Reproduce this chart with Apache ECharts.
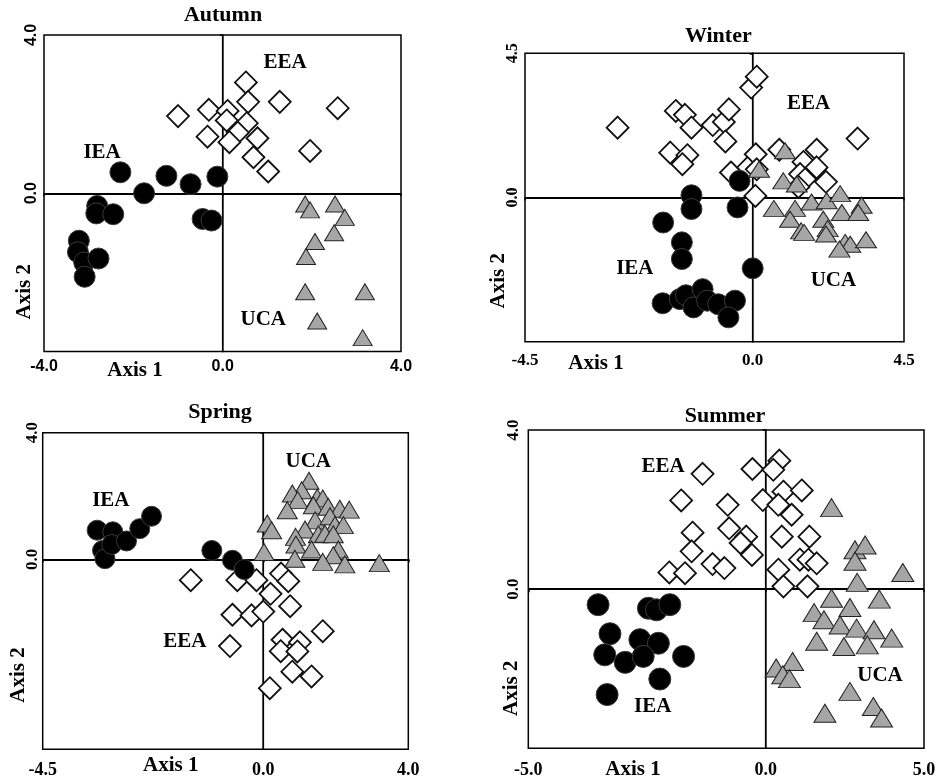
<!DOCTYPE html>
<html><head><meta charset="utf-8">
<script src="https://cdn.jsdelivr.net/npm/echarts@6/dist/echarts.min.js"></script>
<style>html,body{margin:0;padding:0;background:#fff}#c{width:939px;height:778px}</style>
</head><body><div id="c"></div>
<script>
// ---------------- DATA ----------------
// Autumn
const autumnXTicks = [-4.0, 0.0, 4.0];
const autumnYTicks = [0.0, 4.0];
const autumnYMin = -4.0;
const autumnIEA = [[-2.29,0.53],[-1.76,0.0],[-1.26,0.44],[-0.72,0.23],[-0.12,0.42],[-2.81,-0.32],[-2.83,-0.51],[-2.45,-0.53],[-0.45,-0.65],[-0.25,-0.69],[-3.22,-1.2],[-3.24,-1.49],[-3.1,-1.75],[-2.78,-1.65],[-3.09,-2.11]];
const autumnEEA = [[0.52,2.8],[0.57,2.31],[1.28,2.31],[2.58,2.15],[-1.0,1.95],[-0.31,2.11],[0.11,2.08],[0.09,1.84],[0.54,1.77],[0.34,1.53],[-0.34,1.43],[0.15,1.29],[0.78,1.39],[1.96,1.07],[0.69,0.91],[1.02,0.55]];
const autumnUCA = [[1.85,-0.27],[1.96,-0.42],[2.52,-0.27],[2.74,-0.61],[2.5,-1.0],[2.07,-1.22],[1.87,-1.6],[1.85,-2.49],[3.19,-2.49],[2.12,-3.23],[3.14,-3.65]];
const autumnLabels = [['EEA',1.40,3.30],['IEA',-2.70,1.03],['UCA',0.91,-3.19]];

// Winter
const winterXTicks = [-4.5, 0.0, 4.5];
const winterYTicks = [0.0, 4.5];
const winterYMin = -4.5;
const winterIEA = [[-0.26,0.52],[-1.21,0.07],[-1.21,-0.36],[-0.30,-0.31],[-1.77,-0.78],[-1.40,-1.40],[-1.40,-1.92],[0.0,-2.21],[-1.78,-3.30],[-1.44,-3.17],[-1.32,-3.05],[-0.99,-2.86],[-1.17,-3.43],[-0.90,-3.22],[-0.68,-3.33],[-0.35,-3.22],[-0.48,-3.74]];
const winterEEA = [[-2.67,2.18],[-1.52,2.70],[-1.34,2.58],[-1.21,2.18],[-0.79,2.26],[-0.57,2.36],[-0.47,2.75],[-0.54,1.75],[-1.63,1.40],[-1.29,1.32],[-1.39,1.04],[-0.03,3.43],[0.12,3.77],[0.09,1.35],[-0.43,0.78],[-0.09,0.94],[0.12,0.88],[0.08,0.05],[0.79,1.49],[1.90,1.49],[1.51,1.11],[1.90,0.94],[1.41,0.73],[1.56,0.57],[1.36,0.33],[2.18,0.49],[3.12,1.84]];
const winterUCA = [[0.96,1.46],[0.91,0.52],[0.19,0.88],[1.31,0.42],[0.63,-0.34],[1.26,-0.34],[1.11,-0.68],[1.44,-1.04],[1.53,-1.09],[1.75,-0.14],[2.20,-0.10],[2.60,0.12],[2.65,-0.47],[2.10,-0.68],[2.23,-0.97],[2.18,-1.14],[3.24,-0.24],[3.14,-0.47],[2.75,-1.40],[2.90,-1.46],[2.58,-1.61],[3.37,-1.32]];
const winterLabels = [['EEA',1.66,2.94],['IEA',-2.33,-2.23],['UCA',2.40,-2.60]];

// Spring
const springXTicks = [-4.5, 0.0, 4.0];
const springYTicks = [0.0, 4.0];
const springYMin = -6.0;
const springIEA = [[-3.39,0.92],[-3.07,0.87],[-3.28,0.28],[-3.23,0.02],[-3.09,0.47],[-2.79,0.58],[-2.52,0.97],[-2.28,1.36],[-1.05,0.28],[-0.63,-0.03],[-0.39,-0.32]];
const springEEA = [[-1.48,-0.66],[-0.53,-0.66],[-0.14,-0.66],[0.49,-0.45],[0.69,-0.69],[0.20,-1.09],[0.74,-1.48],[-0.63,-1.75],[-0.24,-1.77],[0.0,-1.65],[1.64,-2.27],[0.53,-2.54],[1.01,-2.62],[0.48,-2.90],[0.94,-2.91],[-0.68,-2.74],[0.80,-3.55],[1.33,-3.70],[0.18,-4.07]];
const springUCA = [[1.26,2.48],[1.06,2.18],[0.80,2.08],[0.95,1.87],[1.49,1.95],[1.64,1.92],[1.38,1.71],[1.79,1.66],[2.11,1.60],[2.37,1.57],[0.66,1.55],[1.43,1.23],[1.84,1.36],[1.98,1.08],[2.21,1.08],[0.11,1.13],[0.23,0.92],[1.15,0.94],[1.52,0.79],[1.70,0.81],[1.93,0.79],[0.89,0.71],[0.90,0.47],[1.33,0.31],[2.07,0.31],[1.93,0.13],[0.02,0.23],[0.87,0.02],[1.64,-0.08],[2.25,-0.16],[3.20,-0.12]];
const springLabels = [['UCA',1.24,3.08],['IEA',-3.11,1.87],['EEA',-1.60,-2.59]];

// Summer
const summerXTicks = [-5.0, 0.0, 5.0];
const summerYTicks = [0.0, 4.0];
const summerYMin = -4.0;
const summerIEA = [[-3.53,-0.39],[-2.47,-0.48],[-2.30,-0.52],[-2.02,-0.39],[-3.28,-1.12],[-2.65,-1.27],[-2.26,-1.36],[-3.39,-1.65],[-2.96,-1.84],[-2.58,-1.69],[-1.73,-1.69],[-2.23,-2.26],[-3.34,-2.65]];
const summerEEA = [[0.43,3.23],[0.24,3.0],[-0.28,3.02],[-1.33,2.90],[-1.78,2.23],[-0.80,2.12],[-0.06,2.24],[0.56,2.45],[1.14,2.48],[0.40,2.12],[0.82,1.87],[-1.54,1.42],[-0.77,1.53],[-0.41,1.32],[-0.53,1.16],[0.51,1.32],[1.38,1.32],[-1.56,0.95],[-0.29,0.86],[-2.03,0.42],[-1.70,0.40],[-1.12,0.63],[-0.87,0.53],[1.08,0.74],[1.35,0.74],[1.61,0.65],[0.40,0.49],[0.56,0.07],[1.32,0.07]];
const summerUCA = [[2.08,2.05],[2.82,0.99],[3.14,1.11],[2.82,0.70],[4.33,0.42],[2.89,0.17],[2.08,-0.23],[3.59,-0.25],[1.53,-0.59],[1.84,-0.77],[2.66,-0.46],[2.35,-0.90],[2.87,-0.98],[3.42,-1.02],[3.98,-1.23],[1.61,-1.31],[2.47,-1.44],[3.21,-1.40],[0.85,-1.82],[0.33,-1.98],[0.54,-2.15],[0.75,-2.25],[2.66,-2.57],[3.40,-2.95],[3.66,-3.24],[1.87,-3.12]];
const summerLabels = [['EEA',-2.16,3.08],['UCA',3.61,-2.18],['IEA',-2.38,-2.95]];

// ---------------- LAYOUT / STYLE ----------------
const SERIF = '"Liberation Serif","Times New Roman",serif';
const SANS = '"Liberation Sans",Arial,sans-serif';
const panels = [
  {title:'Autumn', xTicks:autumnXTicks, yTicks:autumnYTicks, yMin:autumnYMin,
   groups:{IEA:autumnIEA, EEA:autumnEEA, UCA:autumnUCA}, labels:autumnLabels,
   box:{L:44, X0:222.7, R:401, T:35, B:351.5},
   tickFont:SANS, xFs:16, yFs:16, xMargin:7, yMargin:4,
   titlePos:[223,15], ax1:[135,370.7], ax2:[25,291.7],
   sizes:{IEA:21, EEA:22, UCA:[19,16]}},
  {title:'Winter', xTicks:winterXTicks, yTicks:winterYTicks, yMin:winterYMin,
   groups:{IEA:winterIEA, EEA:winterEEA, UCA:winterUCA}, labels:winterLabels,
   box:{L:525, X0:752.7, R:904, T:53.3, B:341.7},
   tickFont:SERIF, xFs:17, yFs:16, xMargin:10, yMargin:4,
   titlePos:[718.3,36.7], ax1:[596,364], ax2:[498.3,280.7],
   sizes:{IEA:21, EEA:22, UCA:[21,16]}},
  {title:'Spring', xTicks:springXTicks, yTicks:springYTicks, yMin:springYMin,
   groups:{IEA:springIEA, EEA:springEEA, UCA:springUCA}, labels:springLabels,
   box:{L:42.7, X0:263.3, R:408.3, T:432.7, B:749.3},
   tickFont:SERIF, xFs:18, yFs:17, xMargin:12, yMargin:2,
   titlePos:[220,412.7], ax1:[170.7,766], ax2:[18.3,675],
   sizes:{IEA:20, EEA:22, UCA:[20,17]}},
  {title:'Summer', xTicks:summerXTicks, yTicks:summerYTicks, yMin:summerYMin,
   groups:{IEA:summerIEA, EEA:summerEEA, UCA:summerUCA}, labels:summerLabels,
   box:{L:528.3, X0:765.7, R:924, T:430, B:748.3},
   tickFont:SERIF, xFs:18, yFs:17, xMargin:13, yMargin:6,
   titlePos:[725,416.7], ax1:[633,770], ax2:[511.7,688.3],
   sizes:{IEA:22, EEA:22, UCA:[22,18]}}
];
const STY = {
  EEA:{symbol:'diamond', item:{color:'#ffffff', borderColor:'#111111', borderWidth:1.8, opacity:1}},
  UCA:{symbol:'triangle', item:{color:'#a6a6a6', borderColor:'#222222', borderWidth:1, opacity:1}},
  IEA:{symbol:'circle', item:{color:'#000000', borderColor:'#3a3a3a', borderWidth:1, opacity:1}}
};

const grids=[], xAxes=[], yAxes=[], series=[], graphics=[];
panels.forEach(p=>{
  const b=p.box;
  const halves=[
    {L:b.L, W:b.X0-b.L, xmin:p.xTicks[0], xmax:p.xTicks[1], side:'left'},
    {L:b.X0, W:b.R-b.X0, xmin:p.xTicks[1], xmax:p.xTicks[2], side:'right'}
  ];
  halves.forEach(h=>{
    const gi=grids.length;
    grids.push({left:h.L, top:b.T, width:h.W, height:b.B-b.T, show:true,
      borderColor:'#000', borderWidth:1.5, backgroundColor:'transparent',
      containLabel:false, outerBoundsMode:'none'});
    const xVals = h.side==='left' ? [h.xmin, h.xmax] : [h.xmax];
    xAxes.push({gridIndex:gi, type:'value', min:h.xmin, max:h.xmax, position:'bottom',
      axisLine:{show:false}, splitLine:{show:false},
      axisTick:{show:true, customValues:xVals, length:3, lineStyle:{color:'#000', width:1.5}},
      axisLabel:{show:true, customValues:xVals, margin:p.xMargin, formatter:v=>v.toFixed(1),
        color:'#000', fontFamily:p.tickFont, fontSize:p.xFs, fontWeight:'bold'}});
    yAxes.push({gridIndex:gi, type:'value', min:p.yMin, max:p.yTicks[p.yTicks.length-1],
      show:h.side==='left', axisLine:{show:false}, splitLine:{show:false},
      axisTick:{show:true, customValues:p.yTicks, length:3, lineStyle:{color:'#000', width:1.5}},
      axisLabel:{show:true, customValues:p.yTicks, rotate:90, margin:p.yMargin, formatter:v=>v.toFixed(1),
        color:'#000', fontFamily:p.tickFont, fontSize:p.yFs, fontWeight:'bold'}});
    // horizontal zero line
    series.push({type:'scatter', xAxisIndex:gi, yAxisIndex:gi, data:[], silent:true, z:1,
      markLine:{silent:true, symbol:'none', z:1, animation:false, label:{show:false},
        lineStyle:{color:'#000', width:2, type:'solid', opacity:1}, emphasis:{disabled:true}, data:[{yAxis:0}]}});
    ['EEA','UCA','IEA'].forEach(g=>{
      const pts=p.groups[g].filter(d=> h.side==='left' ? d[0]<0 : d[0]>=0);
      series.push({type:'scatter', name:p.title+' '+g, xAxisIndex:gi, yAxisIndex:gi, data:pts,
        clip:false, z:3, symbol:STY[g].symbol, symbolSize:p.sizes[g], itemStyle:STY[g].item,
        silent:true, animation:false, emphasis:{disabled:true}});
    });
    const labs=p.labels.filter(l=> h.side==='left' ? l[1]<0 : l[1]>=0);
    series.push({type:'scatter', xAxisIndex:gi, yAxisIndex:gi, z:5, symbolSize:1, clip:false,
      itemStyle:{color:'rgba(0,0,0,0)', opacity:1}, silent:true, animation:false,
      data:labs.map(l=>({name:l[0], value:[l[1],l[2]]})),
      label:{show:true, position:'inside', formatter:'{b}', color:'#000', opacity:1,
        fontFamily:SERIF, fontSize:21, fontWeight:'bold'}});
  });
  graphics.push({type:'text', x:p.titlePos[0], y:p.titlePos[1], silent:true,
    style:{text:p.title, fill:'#000', font:'bold 22px '+SERIF, align:'center', verticalAlign:'middle', textAlign:'center', textVerticalAlign:'middle'}});
  graphics.push({type:'text', x:p.ax1[0], y:p.ax1[1], silent:true,
    style:{text:'Axis 1', fill:'#000', font:'bold 21px '+SERIF, align:'center', verticalAlign:'middle', textAlign:'center', textVerticalAlign:'middle'}});
  graphics.push({type:'text', x:p.ax2[0], y:p.ax2[1], rotation:Math.PI/2, silent:true,
    style:{text:'Axis 2', fill:'#000', font:'bold 21px '+SERIF, align:'center', verticalAlign:'middle', textAlign:'center', textVerticalAlign:'middle'}});
});

const chart = echarts.init(document.getElementById('c'), null, {renderer:'canvas'});
chart.setOption({
  backgroundColor:'#ffffff',
  animation:false,
  grid:grids, xAxis:xAxes, yAxis:yAxes, series:series,
  graphic:{elements:graphics}
});
</script></body></html>
